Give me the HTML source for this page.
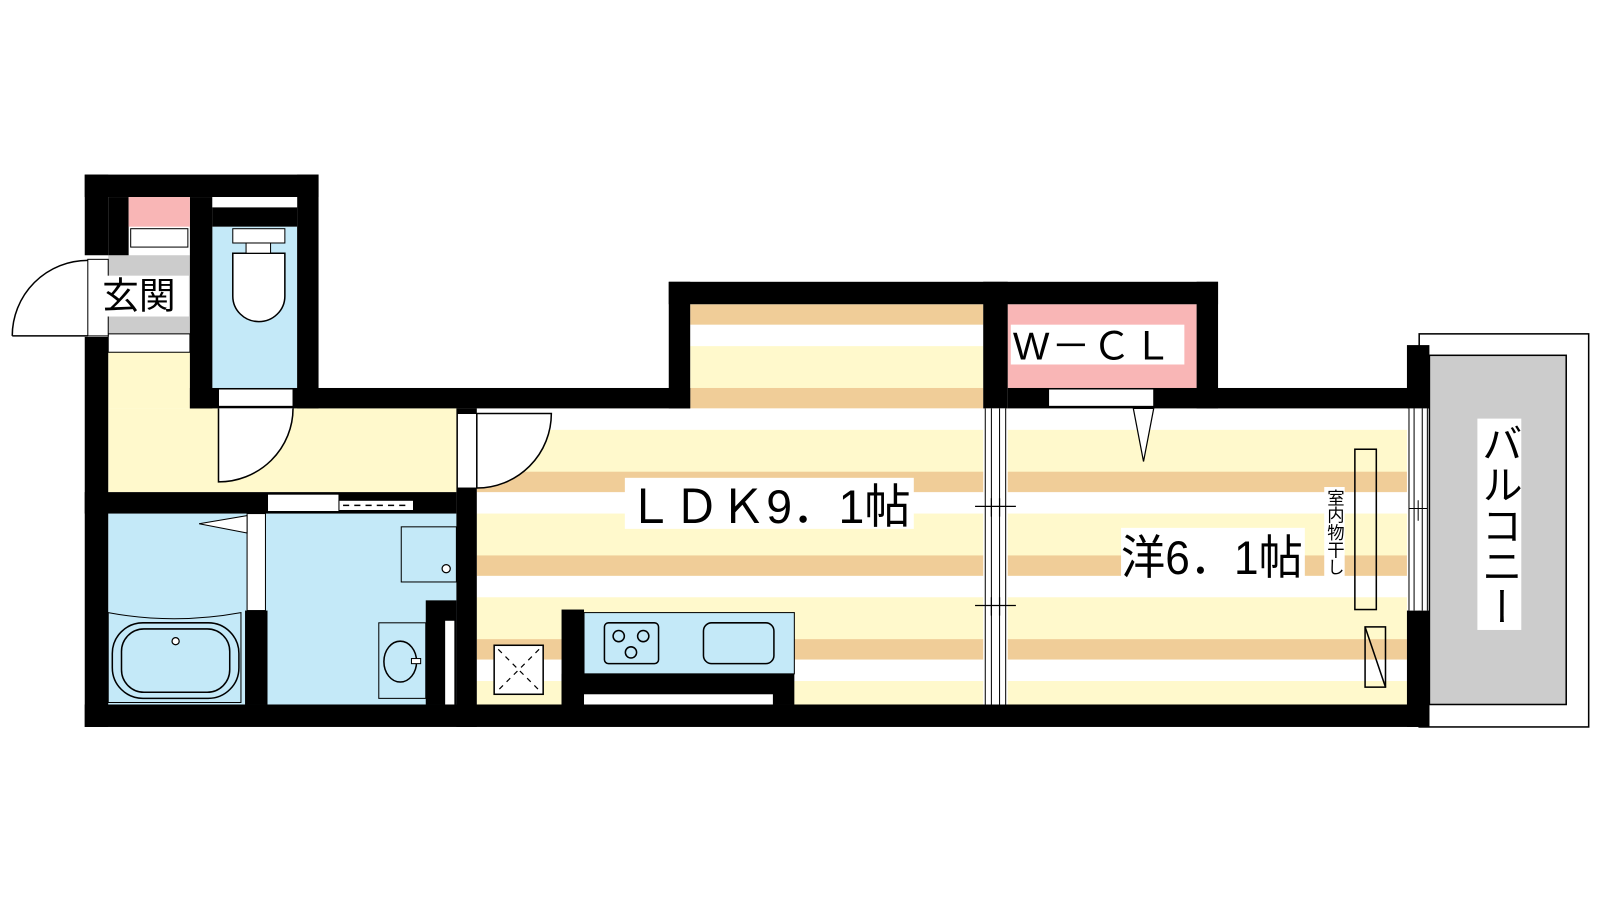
<!DOCTYPE html>
<html><head><meta charset="utf-8"><style>
html,body{margin:0;padding:0;background:#fff;}
svg{display:block;}
text{font-family:"Liberation Sans","Noto Sans CJK JP",sans-serif;fill:#000;}
</style></head><body>
<svg width="1600" height="900" viewBox="0 0 1600 900" xmlns="http://www.w3.org/2000/svg">
<defs>
<pattern id="fl" patternUnits="userSpaceOnUse" x="0" y="298" width="20" height="82">
<rect x="0" y="0" width="20" height="20" fill="#f0cd98"/>
<rect x="0" y="20" width="20" height="21" fill="#ffffff"/>
<rect x="0" y="41" width="20" height="41" fill="#fff9cc"/>
</pattern>
</defs>
<rect width="1600" height="900" fill="#fff"/>
<g transform="scale(1.021)">
<!-- balcony -->
<rect x="1390" y="327" width="166" height="385" fill="#fff" stroke="#000" stroke-width="1.5"/>
<rect x="1400" y="348" width="134" height="342" fill="#cccccc" stroke="#000" stroke-width="1.5"/>

<!-- floors -->
<rect x="676" y="298" width="287" height="102" fill="url(#fl)"/>
<rect x="467" y="400" width="496" height="290" fill="url(#fl)"/>
<rect x="987" y="400" width="391" height="290" fill="url(#fl)"/>
<rect x="987" y="298" width="185" height="82" fill="#f9b6b6"/>
<rect x="106" y="345" width="80" height="55" fill="#fff9cc"/>
<rect x="106" y="400" width="341" height="82" fill="#fff9cc"/>
<rect x="208" y="222" width="83" height="158" fill="#c4e9f8"/>
<rect x="106" y="503" width="341" height="187" fill="#c4e9f8"/>
<rect x="106" y="250" width="80" height="80" fill="#cccccc"/>

<!-- walls -->
<g fill="#000">
<rect x="83" y="171" width="23" height="79"/>
<rect x="83" y="330" width="23" height="382"/>
<rect x="83" y="171" width="229" height="22"/>
<rect x="186" y="193" width="22" height="207"/>
<rect x="291" y="171" width="21" height="229"/>
<rect x="208" y="203" width="83" height="19"/>
<rect x="106" y="193" width="20" height="57"/>
<rect x="186" y="380" width="490" height="20"/>
<rect x="655" y="276" width="538" height="22"/>
<rect x="655" y="276" width="21" height="124"/>
<rect x="963" y="276" width="24" height="124"/>
<rect x="1172" y="276" width="21" height="124"/>
<rect x="987" y="380" width="413" height="20"/>
<rect x="1378" y="338" width="22" height="62"/>
<rect x="1378" y="598" width="22" height="114"/>
<rect x="83" y="482" width="364" height="21"/>
<rect x="447" y="400" width="20" height="312"/>
<rect x="240" y="598" width="22" height="92"/>
<rect x="417" y="588" width="30" height="102"/>
<rect x="83" y="690" width="1317" height="22"/>
<rect x="550" y="597" width="22" height="93"/>
<rect x="550" y="660" width="228" height="30"/>
</g>

<!-- entrance fixtures -->
<rect x="126" y="193" width="60" height="29" fill="#f9b6b6"/>
<rect x="128" y="224" width="56" height="18" fill="#fff" stroke="#000" stroke-width="1"/>
<rect x="106" y="327" width="80" height="18" fill="#fff" stroke="#000" stroke-width="1"/>
<rect x="208" y="193" width="83" height="10" fill="#fff"/>
<rect x="86" y="254" width="20" height="75" fill="#fff" stroke="#000" stroke-width="1"/>
<path d="M12 329 L86 329 M12 329 A74 74 0 0 1 86 255" fill="none" stroke="#000" stroke-width="1.5"/>

<!-- toilet -->
<rect x="228" y="224" width="51" height="14" fill="#fff" stroke="#000" stroke-width="1"/>
<path d="M228 248 L279 248 L279 290 A25.5 25 0 0 1 228 290 Z" fill="#fff" stroke="#000" stroke-width="1.5"/>
<rect x="241" y="238" width="24" height="10" fill="#fff" stroke="#000" stroke-width="1"/>
<rect x="214" y="381" width="73" height="17" fill="#fff" stroke="#000" stroke-width="1"/>
<path d="M214 400 L214 472 A73 72 0 0 0 287 400" fill="#fff" stroke="#000" stroke-width="1.5"/>

<!-- LDK door -->
<rect x="448" y="405" width="19" height="73" fill="#fff" stroke="#000" stroke-width="1"/>
<path d="M467 405 L540 405 A73 73 0 0 1 467 478 Z" fill="#fff" stroke="#000" stroke-width="1.5"/>

<!-- bath door sliding -->
<rect x="262" y="484" width="70" height="17" fill="#fff" stroke="#000" stroke-width="1"/>
<rect x="332" y="490" width="73" height="10" fill="#fff" stroke="#000" stroke-width="1"/>
<line x1="336" y1="495" x2="402" y2="495" stroke="#000" stroke-width="1.5" stroke-dasharray="6,5"/>
<rect x="242" y="503" width="18" height="95" fill="#fff" stroke="#000" stroke-width="1"/>
<path d="M195 513 L242 505 L242 522 Z" fill="#fff" stroke="#000" stroke-width="1"/>
<!-- bathtub -->
<path d="M106 600 Q170 612 236 600 L236 688 L106 688 Z" fill="#c4e9f8" stroke="#000" stroke-width="1"/>
<rect x="110" y="610" width="124" height="74" rx="30" fill="none" stroke="#000" stroke-width="1.5"/>
<rect x="119" y="616" width="106" height="62" rx="22" fill="none" stroke="#000" stroke-width="1.5"/>
<circle cx="172" cy="628" r="3.5" fill="#fff" stroke="#000" stroke-width="1.2"/>
<!-- washroom -->
<rect x="393" y="516" width="54" height="54" fill="#c4e9f8" stroke="#000" stroke-width="1"/>
<circle cx="437" cy="557" r="4" fill="#fff" stroke="#000" stroke-width="1.2"/>
<rect x="436" y="608" width="9" height="82" fill="#fff"/>
<rect x="371" y="610" width="46" height="74" fill="#c4e9f8" stroke="#000" stroke-width="1"/>
<ellipse cx="392" cy="648" rx="16" ry="20" fill="none" stroke="#000" stroke-width="1.5"/>
<rect x="403" y="645" width="9" height="5" fill="#fff" stroke="#000" stroke-width="1"/>

<!-- kitchen -->
<rect x="572" y="600" width="206" height="60" fill="#c4e9f8" stroke="#000" stroke-width="1"/>
<rect x="572" y="680" width="185" height="10" fill="#fff"/>
<rect x="592" y="610" width="53" height="40" rx="4" fill="none" stroke="#000" stroke-width="1.5"/>
<circle cx="606" cy="623" r="5.5" fill="none" stroke="#000" stroke-width="1.5"/>
<circle cx="630" cy="623" r="5.5" fill="none" stroke="#000" stroke-width="1.5"/>
<circle cx="618" cy="639" r="5.5" fill="none" stroke="#000" stroke-width="1.5"/>
<rect x="689" y="610" width="69" height="40" rx="8" fill="none" stroke="#000" stroke-width="1.5"/>
<rect x="484" y="632" width="48" height="48" fill="#fff" stroke="#000" stroke-width="1.5"/>
<path d="M488 636 L528 676 M528 636 L488 676" stroke="#000" stroke-width="1.2" stroke-dasharray="5,5"/>

<!-- partition -->
<rect x="965" y="400" width="20" height="290" fill="#fff"/>
<path d="M965 400 V690 M971 400 V690 M979 400 V690 M985 400 V690" stroke="#000" stroke-width="1"/>
<path d="M955 496 H995 M971 488 V506 M979 488 V506 M955 593 H995 M971 585 V603 M979 585 V603" stroke="#000" stroke-width="1.2"/>

<!-- WCL door -->
<rect x="1027" y="381" width="103" height="17" fill="#fff" stroke="#000" stroke-width="1"/>
<path d="M1110 400 L1130 400 L1120 452 Z" fill="#fff" stroke="#000" stroke-width="1.2"/>

<!-- right window -->
<rect x="1380" y="400" width="18" height="198" fill="#fff"/>
<path d="M1380 400 V598 M1385 400 V598 M1393 400 V598 M1398 400 V598" stroke="#000" stroke-width="1"/>
<path d="M1380 498 H1398 M1389 490 V510" stroke="#000" stroke-width="1"/>

<!-- hanger -->
<rect x="1327" y="440" width="21" height="157" fill="none" stroke="#000" stroke-width="1.5"/>
<rect x="1337" y="614" width="20" height="59" fill="none" stroke="#000" stroke-width="1.5"/>
<line x1="1337" y1="614" x2="1357" y2="673" stroke="#000" stroke-width="1.5"/>

<!-- labels -->
<rect x="98" y="270" width="87" height="40" fill="#fff"/>
<text x="100" y="302" font-size="36">玄関</text>
<rect x="990" y="318" width="170" height="39" fill="#fff"/>
<text x="992" y="352" font-size="38" letter-spacing="2">W－ＣＬ</text>
<rect x="612" y="468" width="283" height="50" fill="#fff"/>
<text x="614" y="512" font-size="46" textLength="278" lengthAdjust="spacingAndGlyphs">ＬＤＫ9．1帖</text>
<rect x="1098" y="517" width="180" height="52" fill="#fff"/>
<text x="1098" y="562" font-size="46" textLength="178" lengthAdjust="spacingAndGlyphs">洋6．1帖</text>
<rect x="1297" y="477" width="20" height="104" fill="#fff"/>
<text font-size="17" x="1307" y="479" style="writing-mode:vertical-rl" writing-mode="tb">室内物干し</text>
<rect x="1447" y="410" width="43" height="207" fill="#fff"/>
<text font-size="40" x="1468" y="414" style="writing-mode:vertical-rl" writing-mode="tb">バルコニー</text>
</g>
</svg>
</body></html>
